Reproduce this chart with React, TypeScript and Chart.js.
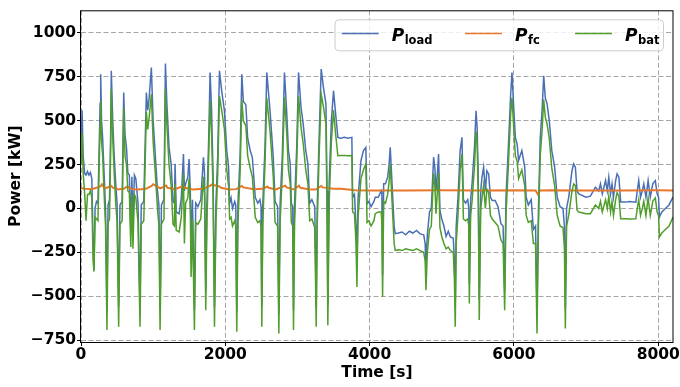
import React, { useEffect, useRef } from "react";
import { Chart, registerables } from "chart.js";

Chart.register(...registerables);

const FONT = "'DejaVu Sans', 'Liberation Sans', sans-serif";

// Time axis [s] shared by P_load and P_bat
const timeS = [
  0, 15, 30, 50, 70, 90, 110, 130, 150, 168, 180, 195, 215, 235, 252, 265, 273, 285, 300, 320,
  340, 360, 375, 395, 410, 420, 440, 460, 480, 500, 522, 540, 570, 592, 610, 630, 650, 670, 690, 705,
  720, 740, 760, 790, 818, 835, 870, 906, 925, 945, 975, 1000, 1030, 1060, 1080, 1096, 1115, 1150, 1170, 1190,
  1220, 1250, 1275, 1295, 1304, 1320, 1360, 1390, 1420, 1433, 1450, 1480, 1498, 1515, 1526, 1545, 1572, 1590, 1620, 1660,
  1697, 1712, 1729, 1745, 1770, 1789, 1810, 1830, 1850, 1870, 1895, 1919, 1950, 1988, 2020, 2045, 2060, 2080, 2100, 2130,
  2145, 2159, 2175, 2205, 2229, 2250, 2285, 2310, 2345, 2375, 2415, 2450, 2480, 2495, 2506, 2520, 2550, 2575, 2620, 2665,
  2690, 2725, 2742, 2760, 2790, 2820, 2850, 2875, 2900, 2915, 2935, 2945, 2960, 2990, 3015, 3050, 3080, 3115, 3145, 3170,
  3200, 3240, 3260, 3275, 3300, 3329, 3360, 3395, 3410, 3421, 3440, 3470, 3500, 3525, 3560, 3600, 3650, 3700, 3754, 3765,
  3790, 3812, 3824, 3840, 3880, 3915, 3948, 3965, 3990, 4020, 4060, 4078, 4120, 4160, 4170, 4180, 4195, 4220, 4250, 4270,
  4286, 4310, 4340, 4355, 4400, 4450, 4500, 4550, 4600, 4650, 4700, 4750, 4770, 4781, 4800, 4830, 4855, 4887, 4905, 4920,
  4940, 4956, 4975, 5000, 5030, 5060, 5090, 5120, 5160, 5175, 5187, 5200, 5225, 5255, 5280, 5300, 5330, 5360, 5375, 5382,
  5400, 5420, 5455, 5475, 5490, 5505, 5520, 5540, 5558, 5580, 5605, 5625, 5650, 5675, 5700, 5740, 5780, 5820, 5850, 5872,
  5890, 5925, 5955, 5973, 5995, 6020, 6045, 6065, 6110, 6150, 6170, 6200, 6240, 6270, 6300, 6320, 6340, 6365, 6390, 6413,
  6435, 6460, 6490, 6525, 6565, 6600, 6640, 6680, 6700, 6713, 6730, 6760, 6805, 6828, 6852, 6875, 6900, 7000, 7060, 7130,
  7175, 7200, 7225, 7270, 7295, 7315, 7340, 7360, 7380, 7410, 7430, 7455, 7480, 7550, 7600, 7690, 7710, 7730, 7755, 7780,
  7800, 7830, 7860, 7890, 7925, 7960, 7985, 8005, 8017, 8050, 8100, 8150, 8205,
];

// Load power [kW]
const pLoad = [
  330, 560, 300, 200, 190, 210, 190, 205, 170, -200, -350, 0, 40, 30, 350, 600, 765, 500, 400, 200,
  0, -580, 20, 50, 400, 784, 500, 300, 150, 30, -560, 20, 40, 661, 420, 350, 200, 190, -125, 180,
  -125, 190, 170, 30, -560, 20, 40, 661, 560, 630, 803, 500, 300, 100, 20, -580, 20, 50, 826, 600,
  350, 250, 40, 30, 254, -20, -30, 60, 310, 100, 140, 178, 282, 100, -200, 50, -580, 30, 10, 50,
  292, 200, -470, 30, 400, 775, 560, 200, -560, 30, 300, 784, 670, 557, 330, 240, 30, 60, 0, 40,
  20, -590, 30, 300, 765, 610, 590, 400, 330, 290, 64, 30, 50, 10, -560, 30, 350, 775, 557, 290,
  40, 10, -600, 30, 300, 775, 557, 330, 254, 30, 10, -580, 30, 350, 775, 575, 480, 330, 254, 30,
  50, 10, -560, 30, 400, 794, 690, 595, 100, -550, 150, 500, 670, 557, 405, 400, 405, 400, 405, 64,
  80, -100, -330, 60, 273, 330, 348, 26, 40, 10, 40, 64, 64, 100, 80, -380, 140, 140, 178, 250,
  348, 150, -100, -144, -140, -134, -150, -130, -140, -125, -145, -150, -200, -350, -150, -20, 0, 292, 230, 100,
  200, 310, -11, -60, -100, -160, -130, -163, -170, -300, -560, -100, 64, 330, 405, 50, 30, 50, 0, -430,
  50, 140, 360, 557, 462, 200, -520, 100, 178, 235, 100, 215, 197, 64, 45, 45, 10, -87, -100, -470,
  64, 367, 651, 775, 595, 405, 367, 273, 330, 235, 64, 20, 50, -120, -100, -600, 0, 400, 557, 756,
  630, 595, 500, 330, 235, 64, 10, 0, -100, -570, 0, 64, 215, 254, 235, 100, 83, 64, 70, 121,
  100, 140, 83, 159, 100, 178, 83, 140, 64, 159, 197, 178, 36, 36, 40, 36, 102, 159, 64, 102,
  140, 64, 159, 64, 140, 159, 83, 64, -49, -20, 0, 20, 64,
];

// Battery power [kW]
const pBat = [
  250, 430, 200, 90, -70, 80, 80, 100, 60, -300, -360, -50, -60, -70, 250, 480, 614, 380, 300, 90,
  -100, -693, -80, -60, 300, 680, 400, 200, 40, -80, -674, -90, -70, 570, 300, 250, 100, 90, -220, 80,
  -230, 80, 60, -80, -674, -90, -70, 550, 450, 520, 650, 380, 200, 0, -100, -693, -90, -60, 680, 480,
  250, 130, -90, -100, 140, -125, -134, -50, 200, -200, 30, 60, 170, -10, -390, -60, -693, -80, -90, -60,
  180, 80, -580, -80, 300, 614, 420, 100, -674, -80, 200, 640, 560, 450, 220, 130, -60, -50, -100, -70,
  -100, -703, -80, 200, 620, 500, 470, 300, 230, 180, -50, -80, -70, -100, -674, -80, 250, 630, 440, 180,
  -80, -100, -712, -80, 200, 633, 440, 220, 140, -80, -100, -693, -80, 250, 640, 460, 370, 220, 140, -70,
  -60, -110, -674, -80, 300, 650, 580, 480, -20, -665, 40, 380, 560, 440, 300, 301, 301, 300, 301, -20,
  -30, -200, -447, -50, 170, 220, 254, -80, -70, -100, -70, -30, -20, -20, -80, -504, 40, 30, 80, 150,
  254, 50, -200, -239, -235, -240, -230, -235, -240, -230, -240, -250, -300, -466, -250, -120, -100, 200, 130, -30,
  100, 200, -110, -160, -200, -230, -220, -240, -250, -400, -674, -200, -40, 220, 310, -60, -70, -60, -100, -542,
  -40, 40, 250, 440, 370, 100, -636, 0, 60, 130, 0, 110, 90, -40, -60, -80, -100, -180, -200, -580,
  -40, 260, 540, 630, 480, 300, 270, 170, 220, 130, -40, -80, -70, -200, -200, -712, -100, 300, 440, 620,
  520, 480, 400, 230, 130, -40, -100, -110, -220, -684, -100, -40, 100, 140, 130, -10, -20, -30, -30, 20,
  0, 40, -20, 50, 0, 70, -20, 40, -40, 50, 90, 70, -59, -59, -60, -59, 0, 50, -40, 0,
  40, -40, 60, -40, 40, 60, -20, -40, -163, -140, -120, -100, -49,
];

// Fuel cell power [kW]
const fcTime = [
  0, 60, 150, 270, 290, 330, 420, 440, 520, 600, 640, 700, 800, 900, 980, 1000, 1100, 1180, 1200, 1300,
  1420, 1440, 1550, 1700, 1790, 1810, 1920, 1940, 2050, 2150, 2230, 2250, 2400, 2520, 2580, 2600, 2700, 2830, 2850, 2950,
  3020, 3040, 3150, 3250, 3330, 3350, 3500, 3600, 3700, 3800, 4000, 4500, 5000, 5500, 6000, 6300, 6330, 6360, 6500, 7000,
  7500, 8000, 8205,
];
const pFc = [
  115, 112, 110, 125, 138, 114, 128, 118, 108, 113, 125, 110, 108, 112, 128, 138, 114, 130, 118, 110,
  128, 118, 108, 112, 130, 136, 125, 118, 108, 110, 128, 120, 110, 112, 125, 118, 108, 130, 120, 108,
  130, 118, 110, 108, 128, 120, 112, 112, 108, 104, 102, 102, 103, 102, 104, 102, 82, 102, 103, 102,
  102, 103, 102,
];

const xTickValues = [0, 2000, 4000, 6000, 8000];
const yTickValues = [-750, -500, -250, 0, 250, 500, 750, 1000];
const seriesLabels = ["load", "fc", "bat"];
const seriesColors = ["#4a6fb5", "#e8772c", "#4f9d2a"];

const legendPlugin = {
  id: "subLegend",
  afterDraw(chart: any) {
    const { ctx, chartArea } = chart;
    const r = chartArea.right;
    const t = chartArea.top;
    ctx.save();
    const bx = r - 338;
    const by = t + 9.5;
    const bw = 328.5;
    const bh = 31;
    const rad = 4;
    ctx.beginPath();
    ctx.moveTo(bx + rad, by);
    ctx.lineTo(bx + bw - rad, by);
    ctx.quadraticCurveTo(bx + bw, by, bx + bw, by + rad);
    ctx.lineTo(bx + bw, by + bh - rad);
    ctx.quadraticCurveTo(bx + bw, by + bh, bx + bw - rad, by + bh);
    ctx.lineTo(bx + rad, by + bh);
    ctx.quadraticCurveTo(bx, by + bh, bx, by + bh - rad);
    ctx.lineTo(bx, by + rad);
    ctx.quadraticCurveTo(bx, by, bx + rad, by);
    ctx.closePath();
    ctx.fillStyle = "rgba(255,255,255,0.8)";
    ctx.fill();
    ctx.strokeStyle = "#cccccc";
    ctx.lineWidth = 1;
    ctx.stroke();
    const offsets = [-331.3, -208, -98];
    seriesLabels.forEach((sub, i) => {
      const lx = r + offsets[i];
      const ly = t + 23.3;
      ctx.strokeStyle = seriesColors[i];
      ctx.lineWidth = 1.5;
      ctx.beginPath();
      ctx.moveTo(lx, ly);
      ctx.lineTo(lx + 37, ly);
      ctx.stroke();
      ctx.fillStyle = "#000";
      ctx.textBaseline = "alphabetic";
      ctx.textAlign = "left";
      ctx.font = `italic bold 17px ${FONT}`;
      const px = lx + 50;
      ctx.fillText("P", px, t + 30.5);
      const w = ctx.measureText("P").width;
      ctx.font = `bold 11.5px ${FONT}`;
      ctx.fillText(sub, px + w + 0.5, t + 33.5);
    });
    ctx.restore();
  },
};

const framePlugin = {
  id: "frame",
  afterDatasetsDraw(chart: any) {
    const { ctx, chartArea } = chart;
    ctx.save();
    ctx.strokeStyle = "#000";
    ctx.lineWidth = 1;
    ctx.strokeRect(
      chartArea.left - 0.5,
      chartArea.top + 0.5,
      chartArea.right - chartArea.left + 0.5,
      chartArea.bottom - chartArea.top
    );
    ctx.restore();
  },
};

const fmt = (v: any) => String(v).replace("-", "\u2212");

export default function App() {
  const ref = useRef<HTMLCanvasElement | null>(null);

  useEffect(() => {
    if (!ref.current) return;
    const mk = (ys: number[], xs: number[]) => xs.map((x, i) => ({ x, y: ys[i] }));
    const tickFont = { family: FONT, size: 15.5, weight: "bold" as const };
    const titleFont = { family: FONT, size: 15.5, weight: "bold" as const };
    const chart = new Chart(ref.current, {
      type: "line",
      data: {
        datasets: [
          {
            label: "P_load",
            data: mk(pLoad, timeS),
            borderColor: seriesColors[0],
            borderWidth: 1.5,
            pointRadius: 0,
            tension: 0,
            fill: false,
            order: 3,
            clip: 0,
          },
          {
            label: "P_fc",
            data: mk(pFc, fcTime),
            borderColor: seriesColors[1],
            borderWidth: 2,
            pointRadius: 0,
            tension: 0,
            fill: false,
            order: 2,
            clip: 0,
          },
          {
            label: "P_bat",
            data: mk(pBat, timeS),
            borderColor: seriesColors[2],
            borderWidth: 1.5,
            pointRadius: 0,
            tension: 0,
            fill: false,
            order: 1,
            clip: 0,
          },
        ],
      },
      options: {
        animation: false,
        responsive: false,
        devicePixelRatio: 1,
        events: [],
        layout: { padding: { top: 10, right: 7, left: 0, bottom: 0 } },
        plugins: { legend: { display: false }, tooltip: { enabled: false } },
        scales: {
          x: {
            type: "linear",
            min: 0,
            max: 8205,
            afterBuildTicks: (s: any) => {
              s.ticks = xTickValues.map((v) => ({ value: v }));
            },
            afterFit: (s: any) => {
              s.height = 45;
            },
            ticks: {
              includeBounds: false,
              maxRotation: 0,
              autoSkip: false,
              padding: 0,
              color: "#000",
              font: tickFont,
              callback: fmt,
            },
            grid: {
              color: "rgba(150,150,150,0.85)",
              lineWidth: 1,
              tickLength: 4,
              tickColor: "#000",
              tickWidth: 1,
              tickBorderDash: [],
            },
            border: { display: false, dash: [5, 2.5] },
            title: {
              display: true,
              text: "Time [s]",
              color: "#000",
              font: titleFont,
              padding: { top: 0, bottom: 4.7 },
            },
          },
          y: {
            type: "linear",
            min: -761,
            max: 1129,
            afterBuildTicks: (s: any) => {
              s.ticks = yTickValues.map((v) => ({ value: v }));
            },
            afterFit: (s: any) => {
              s.width = 81;
            },
            ticks: {
              includeBounds: false,
              autoSkip: false,
              padding: 1,
              color: "#000",
              font: tickFont,
              callback: fmt,
            },
            grid: {
              color: "rgba(150,150,150,0.85)",
              lineWidth: 1,
              tickLength: 4,
              tickColor: "#000",
              tickWidth: 1,
              tickBorderDash: [],
            },
            border: { display: false, dash: [5, 2.5] },
            title: {
              display: true,
              text: "Power [kW]",
              color: "#000",
              font: titleFont,
              padding: { top: 7, bottom: 0 },
            },
          },
        },
      },
      plugins: [framePlugin, legendPlugin],
    });
    return () => chart.destroy();
  }, []);

  return (
    <div style={{ position: "fixed", left: 0, top: 0, width: 680, height: 387, background: "#fff" }}>
      <canvas ref={ref} width={680} height={387} style={{ display: "block", width: 680, height: 387 }} />
    </div>
  );
}
